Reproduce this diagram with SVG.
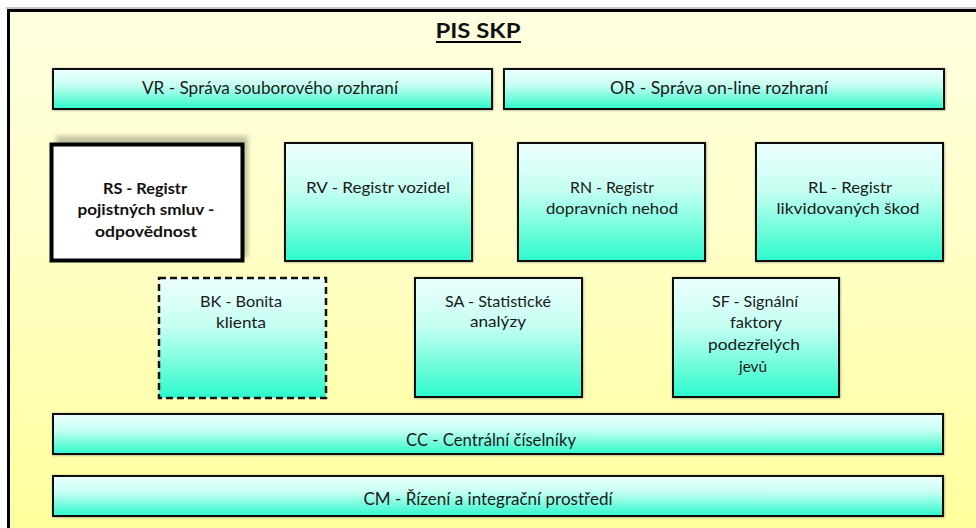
<svg xmlns="http://www.w3.org/2000/svg" width="976" height="528" viewBox="0 0 976 528">
<defs>
<linearGradient id="bg" x1="0" y1="0" x2="0" y2="1">
<stop offset="0" stop-color="#FFFFE0"/>
<stop offset="0.4" stop-color="#FFFFC8"/>
<stop offset="1" stop-color="#FFFF96"/>
</linearGradient>
<linearGradient id="aqua" x1="0" y1="0" x2="0" y2="1">
<stop offset="0" stop-color="#EDFFFF"/>
<stop offset="0.4" stop-color="#C6FFF2"/>
<stop offset="1" stop-color="#2DFACB"/>
</linearGradient>
<filter id="sh" x="-5%" y="-20%" width="110%" height="140%">
<feDropShadow dx="0.5" dy="0.5" stdDeviation="1" flood-color="#808080" flood-opacity="0.7"/>
</filter>
<filter id="blur" x="-10%" y="-10%" width="120%" height="120%">
<feGaussianBlur stdDeviation="2.5"/>
</filter>
<style>
.box{fill:url(#aqua);stroke:#111;stroke-width:2;filter:url(#sh)}
.t{font-family:Lato,"Liberation Sans",sans-serif;font-size:16px;fill:#1a1a1a;text-anchor:middle}
.tl{font-family:Lato,"Liberation Sans",sans-serif;font-size:18px;fill:#1a1a1a;text-anchor:middle}
.tb{font-family:Lato,"Liberation Sans",sans-serif;font-size:16px;font-weight:bold;fill:#111;text-anchor:middle}
</style>
</defs>
<rect x="0" y="0" width="976" height="528" fill="#ffffff"/>
<g id="frame">
<line x1="6" y1="8" x2="976" y2="8" stroke="#b8b8b8" stroke-width="1.5"/>
<rect x="8.5" y="10.5" width="1000" height="560" fill="url(#bg)" stroke="#000" stroke-width="3"/>
<text class="tb" x="478" y="38" style="font-size:21px" textLength="85" lengthAdjust="spacingAndGlyphs">PIS SKP</text>
<line x1="436" y1="42" x2="521" y2="42" stroke="#000" stroke-width="1.8"/>
</g>
<g id="VR">
<rect class="box" x="53" y="69" width="439" height="40"/>
<text class="tl" x="270" y="94" textLength="256" lengthAdjust="spacingAndGlyphs">VR - Správa souborového rozhraní</text>
</g>
<g id="OR">
<rect class="box" x="504" y="69" width="440" height="40"/>
<text class="tl" x="719" y="94" textLength="218" lengthAdjust="spacingAndGlyphs">OR - Správa on-line rozhraní</text>
</g>
<g id="RS">
<rect x="56" y="136" width="192" height="121" fill="#9a9a80" opacity="0.6" filter="url(#blur)"/>
<rect x="51.5" y="144.5" width="191" height="116" fill="#ffffff" stroke="#000" stroke-width="4"/>
<text class="tb" x="145" y="194" textLength="84" lengthAdjust="spacingAndGlyphs">RS - Registr</text>
<text class="tb" x="146" y="215" textLength="137" lengthAdjust="spacingAndGlyphs">pojistných smluv -</text>
<text class="tb" x="146" y="237" textLength="102" lengthAdjust="spacingAndGlyphs">odpovědnost</text>
</g>
<g id="RV">
<rect class="box" x="285" y="143" width="187" height="118"/>
<text class="t" x="378" y="193" textLength="144" lengthAdjust="spacingAndGlyphs">RV - Registr vozidel</text>
</g>
<g id="RN">
<rect class="box" x="518" y="143" width="187" height="118"/>
<text class="t" x="612" y="193" textLength="84" lengthAdjust="spacingAndGlyphs">RN - Registr</text>
<text class="t" x="612" y="214" textLength="132" lengthAdjust="spacingAndGlyphs">dopravních nehod</text>
</g>
<g id="RL">
<rect class="box" x="756" y="143" width="187" height="118"/>
<text class="t" x="850" y="193" textLength="84" lengthAdjust="spacingAndGlyphs">RL - Registr</text>
<text class="t" x="848" y="214" textLength="143" lengthAdjust="spacingAndGlyphs">likvidovaných  škod</text>
</g>
<g id="BK">
<rect x="159" y="278" width="167" height="120" fill="url(#aqua)" stroke="#111" stroke-width="2.5" stroke-dasharray="7 4"/>
<text class="t" x="241" y="307" textLength="82" lengthAdjust="spacingAndGlyphs">BK - Bonita</text>
<text class="t" x="241" y="328" textLength="50" lengthAdjust="spacingAndGlyphs">klienta</text>
</g>
<g id="SA">
<rect class="box" x="415" y="278" width="167" height="119"/>
<text class="t" x="498" y="307" textLength="106" lengthAdjust="spacingAndGlyphs">SA - Statistické</text>
<text class="t" x="498" y="327" textLength="56" lengthAdjust="spacingAndGlyphs">analýzy</text>
</g>
<g id="SF">
<rect class="box" x="673" y="278" width="166" height="119"/>
<text class="t" x="755" y="307" textLength="86" lengthAdjust="spacingAndGlyphs">SF - Signální</text>
<text class="t" x="756" y="328" textLength="52" lengthAdjust="spacingAndGlyphs">faktory</text>
<text class="t" x="754" y="350" textLength="92" lengthAdjust="spacingAndGlyphs">podezřelých</text>
<text class="t" x="753" y="372" textLength="28" lengthAdjust="spacingAndGlyphs">jevů</text>
</g>
<g id="CC">
<rect class="box" x="53" y="414" width="890" height="40"/>
<text class="tl" x="491" y="446" textLength="170" lengthAdjust="spacingAndGlyphs">CC - Centrální číselníky</text>
</g>
<g id="CM">
<rect class="box" x="53" y="476" width="890" height="40"/>
<text class="tl" x="488" y="505" textLength="249" lengthAdjust="spacingAndGlyphs">CM - Řízení a integrační prostředí</text>
</g>
<g id="connectors"/>
</svg>
